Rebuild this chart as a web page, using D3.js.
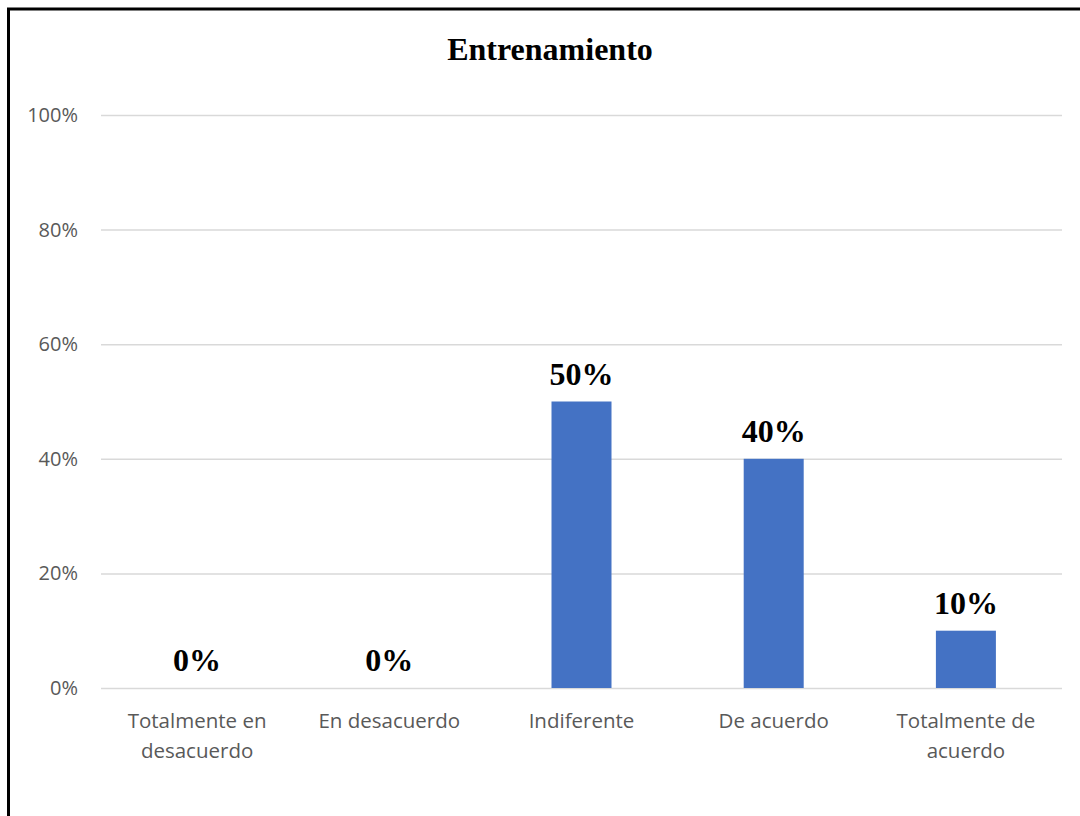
<!DOCTYPE html>
<html>
<head>
<meta charset="utf-8">
<script src="https://cdn.jsdelivr.net/npm/d3@7"></script>
<style>
  body { margin: 0; background: #fff; }
  svg { display: block; }
</style>
</head>
<body>
<div id="chart"></div>
<script>
const categories = [
  ["Totalmente en", "desacuerdo"],
  ["En desacuerdo"],
  ["Indiferente"],
  ["De acuerdo"],
  ["Totalmente de", "acuerdo"]
];
const values = [0, 0, 0.5, 0.4, 0.1];
const yTicks = [0, 0.2, 0.4, 0.6, 0.8, 1.0];
const title = "Entrenamiento";

let W = 1080, H = 816;
let margin = { top: 115, right: 18, bottom: 128, left: 101 };
let width = W - margin.left - margin.right;
let height = H - margin.top - margin.bottom;

let svg = d3.select("#chart").append("svg")
  .attr("width", W)
  .attr("height", H);

// outer frame (right and bottom edges run off the page)
svg.append("rect")
  .attr("x", 8.5).attr("y", 9)
  .attr("width", W + 20).attr("height", H + 20)
  .attr("fill", "none")
  .attr("stroke", "#000")
  .attr("stroke-width", 3);

svg.append("text")
  .attr("x", 550).attr("y", 60)
  .attr("text-anchor", "middle")
  .style("font-family", "Liberation Serif, Times New Roman, serif")
  .style("font-weight", "bold")
  .style("font-size", "32px")
  .text(title);

let canvas = svg.append("g")
  .attr("transform", "translate(" + margin.left + "," + margin.top + ")");

let xScale = d3.scaleBand()
  .domain(d3.range(categories.length))
  .range([0, width]);

let yScale = d3.scaleLinear().domain([0, 1]).range([height, 0]);

// gridlines
let yGrid = canvas.append("g")
  .call(d3.axisLeft(yScale).tickValues(yTicks).tickSize(-width).tickFormat(""));
yGrid.select(".domain").remove();
yGrid.selectAll("line").attr("stroke", "#d9d9d9").attr("stroke-width", 1.5);

// y labels
let yAxisEl = canvas.append("g")
  .call(d3.axisLeft(yScale).tickValues(yTicks).tickSize(0).tickPadding(23).tickFormat(d3.format(".0%")));
yAxisEl.select(".domain").remove();
yAxisEl.selectAll("text")
  .attr("fill", "#595959")
  .style("font-family", "Open Sans, Liberation Sans, sans-serif")
  .style("font-size", "20px");

// bars
let barW = 60;
canvas.selectAll(".bar")
  .data(values)
  .enter().append("rect")
  .attr("class", "bar")
  .attr("x", (d, i) => xScale(i) + xScale.bandwidth() / 2 - barW / 2)
  .attr("y", d => yScale(d))
  .attr("width", barW)
  .attr("height", d => height - yScale(d))
  .attr("fill", "#4472c4");

// value labels
canvas.selectAll(".val")
  .data(values)
  .enter().append("text")
  .attr("class", "val")
  .attr("x", (d, i) => xScale(i) + xScale.bandwidth() / 2)
  .attr("y", d => yScale(d) - 17)
  .attr("text-anchor", "middle")
  .style("font-family", "Liberation Serif, Times New Roman, serif")
  .style("font-weight", "bold")
  .style("font-size", "32px")
  .text(d => d3.format(".0%")(d));

// x labels
let xl = canvas.selectAll(".xl")
  .data(categories)
  .enter().append("text")
  .attr("class", "xl")
  .attr("x", (d, i) => xScale(i) + xScale.bandwidth() / 2)
  .attr("y", height + 40)
  .attr("text-anchor", "middle")
  .attr("fill", "#595959")
  .style("font-family", "Open Sans, Liberation Sans, sans-serif")
  .style("font-size", "20.5px");
xl.selectAll("tspan")
  .data(d => d)
  .enter().append("tspan")
  .attr("x", function () { return d3.select(this.parentNode).attr("x"); })
  .attr("dy", (d, i) => i === 0 ? 0 : 30)
  .text(d => d);
</script>
</body>
</html>
